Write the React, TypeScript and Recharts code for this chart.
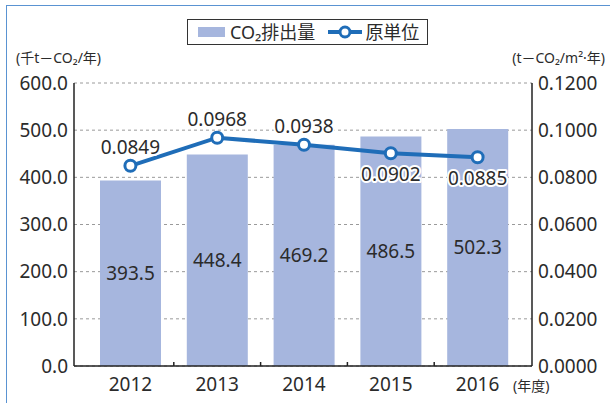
import React from 'react';
import {
  ComposedChart,
  Bar,
  Line,
  XAxis,
  YAxis,
  CartesianGrid,
  LabelList,
} from 'recharts';

const years = ['2012', '2013', '2014', '2015', '2016'];
const emissions = [393.5, 448.4, 469.2, 486.5, 502.3];
const intensity = [0.0849, 0.0968, 0.0938, 0.0902, 0.0885];
const leftTicks = [0, 100, 200, 300, 400, 500, 600];
const rightTicks = [0, 0.02, 0.04, 0.06, 0.08, 0.1, 0.12];
const lineLabelSide = ['above', 'above', 'above', 'below', 'below'];

const data = years.map((y, i) => ({
  year: y,
  emission: emissions[i],
  intensity: intensity[i],
}));

const FONT = '"Noto Sans", "Noto Sans CJK JP", sans-serif';
const TEXT = '#2b2b2b';
const BAR = '#a6b6de';
const LINE = '#1f6db8';
const AXIS = '#222';
const X_TICK_MARGIN = 12;

const XTick = (props: any) => {
  const { x, y, payload, index } = props;
  const off = payload && typeof payload.offset === 'number' ? payload.offset : 0;
  const axisY = y - X_TICK_MARGIN;
  return (
    <g>
      {index > 0 && off > 0 && (
        <line x1={x - off} x2={x - off} y1={axisY} y2={axisY - 4} stroke={AXIS} strokeWidth={1.5} />
      )}
      <text
        x={x}
        y={y}
        dy="0.71em"
        textAnchor="middle"
        fontSize={19}
        fontFamily={FONT}
        fill={TEXT}
      >
        {payload.value}
      </text>
    </g>
  );
};

const LineLabel = (props: any) => {
  const { x, y, value, index } = props;
  const below = lineLabelSide[index] === 'below';
  return (
    <text
      x={x}
      y={below ? y + 21 : y - 19}
      textAnchor="middle"
      dominantBaseline="central"
      fontSize={19}
      fontFamily={FONT}
      fill={TEXT}
      stroke="#fff"
      strokeWidth={4}
      strokeLinejoin="round"
      paintOrder="stroke"
    >
      {Number(value).toFixed(4)}
    </text>
  );
};

const Dot = (props: any) => {
  const { cx, cy } = props;
  return <circle cx={cx} cy={cy} r={5.5} fill="#fff" stroke={LINE} strokeWidth={3} />;
};

export default function App() {
  return (
    <div
      style={{
        position: 'absolute',
        left: 0,
        top: 0,
        width: 610,
        height: 403,
        background: '#fff',
        overflow: 'hidden',
        fontFamily: FONT,
      }}
    >
      <div
        style={{
          position: 'absolute',
          left: 6,
          top: 5,
          width: 640,
          height: 440,
          borderTop: '1.5px solid #5a93d2',
          borderLeft: '1.5px solid #5a93d2',
        }}
      />
      <ComposedChart
        width={610}
        height={403}
        data={data}
        margin={{ top: 83, right: 0, bottom: 0, left: 0 }}
        style={{ position: 'absolute', left: 0, top: 0 }}
      >
        <CartesianGrid
          yAxisId="left"
          vertical={false}
          stroke="#9a9a9a"
          strokeDasharray="3 3"
          strokeWidth={1}
        />
        <XAxis
          dataKey="year"
          height={37}
          padding={{ left: 13, right: 11 }}
          axisLine={{ stroke: AXIS, strokeWidth: 1.5 }}
          tickLine={false}
          tickSize={0}
          tickMargin={X_TICK_MARGIN}
          tick={<XTick />}
          interval={0}
        />
        <YAxis
          yAxisId="left"
          width={74}
          domain={[0, 600]}
          ticks={leftTicks}
          tickFormatter={(v: number) => v.toFixed(1)}
          axisLine={{ stroke: AXIS, strokeWidth: 1.5 }}
          tickLine={false}
          tickSize={0}
          tickMargin={6}
          tick={{ fontSize: 19, fill: TEXT, fontFamily: FONT }}
          interval={0}
        />
        <YAxis
          yAxisId="right"
          orientation="right"
          width={78}
          domain={[0, 0.12]}
          ticks={rightTicks}
          tickFormatter={(v: number) => v.toFixed(4)}
          axisLine={{ stroke: AXIS, strokeWidth: 1.5 }}
          tickLine={false}
          tickSize={0}
          tickMargin={6}
          tick={{ fontSize: 19, fill: TEXT, fontFamily: FONT }}
          interval={0}
        />
        <Bar yAxisId="left" dataKey="emission" fill={BAR} barSize={61} isAnimationActive={false}>
          <LabelList
            dataKey="emission"
            position="center"
            formatter={(v: any) => Number(v).toFixed(1)}
            style={{ fontSize: 19, fill: TEXT, fontFamily: FONT }}
          />
        </Bar>
        <Line
          yAxisId="right"
          dataKey="intensity"
          stroke={LINE}
          strokeWidth={4}
          dot={<Dot />}
          activeDot={false}
          isAnimationActive={false}
        >
          <LabelList dataKey="intensity" content={<LineLabel />} />
        </Line>
      </ComposedChart>

      <div
        style={{
          position: 'absolute',
          left: 16,
          top: 48,
          fontSize: 14,
          color: TEXT,
          whiteSpace: 'nowrap',
          lineHeight: '20px',
        }}
      >
        (千t－CO₂/年)
      </div>
      <div
        style={{
          position: 'absolute',
          right: 5,
          top: 48,
          fontSize: 14,
          color: TEXT,
          whiteSpace: 'nowrap',
          lineHeight: '20px',
        }}
      >
        (t－CO₂/m²·年)
      </div>
      <div
        style={{
          position: 'absolute',
          left: 513,
          top: 376,
          fontSize: 14,
          color: TEXT,
          whiteSpace: 'nowrap',
          lineHeight: '20px',
        }}
      >
        (年度)
      </div>

      <div
        style={{
          position: 'absolute',
          left: 187,
          top: 19,
          width: 239,
          height: 24,
          border: '1.5px solid #333',
          display: 'flex',
          alignItems: 'center',
          boxSizing: 'content-box',
        }}
      >
        <div style={{ width: 27, height: 10, background: BAR, marginLeft: 10, marginRight: 5 }} />
        <span style={{ fontSize: 18, color: TEXT, lineHeight: '24px' }}>CO₂排出量</span>
        <svg width={36} height={14} style={{ marginLeft: 12, marginRight: 2 }}>
          <line x1={1} x2={35} y1={7} y2={7} stroke={LINE} strokeWidth={4} />
          <circle cx={18} cy={7} r={5} fill="#fff" stroke={LINE} strokeWidth={3} />
        </svg>
        <span style={{ fontSize: 18, color: TEXT, lineHeight: '24px' }}>原単位</span>
      </div>
    </div>
  );
}
